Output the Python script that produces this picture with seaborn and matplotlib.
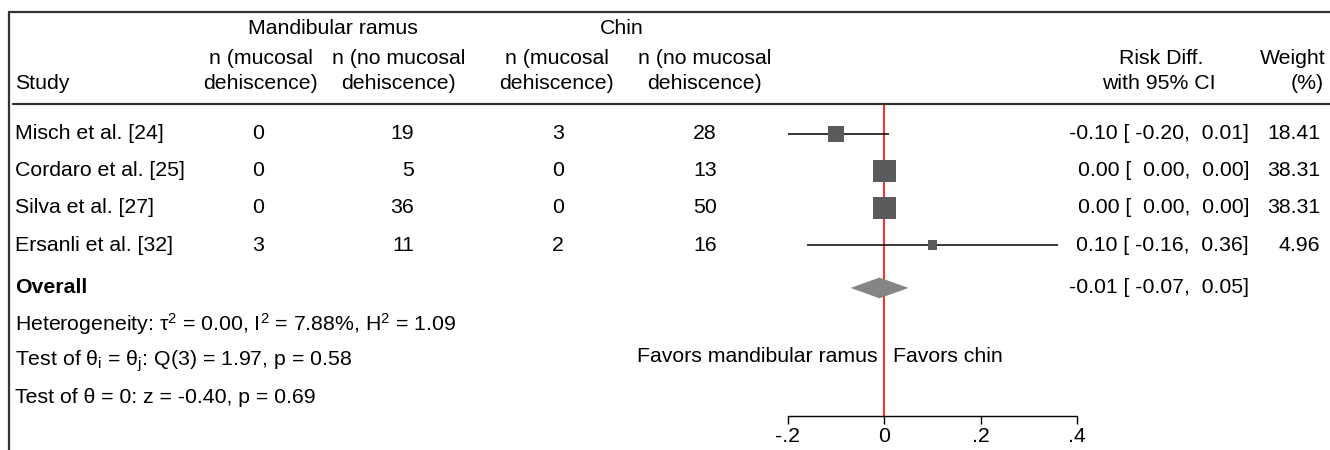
import pandas as pd
import seaborn as sns
import matplotlib.pyplot as plt
import matplotlib.transforms as mtransforms

studies = ["Misch et al. [24]", "Cordaro et al. [25]", "Silva et al. [27]", "Ersanli et al. [32]"]
ramus_dehisc = [0, 0, 0, 3]
ramus_no_dehisc = [19, 5, 36, 11]
chin_dehisc = [3, 0, 0, 2]
chin_no_dehisc = [28, 13, 50, 16]
risk_diff = [-0.10, 0.00, 0.00, 0.10]
ci_low = [-0.20, 0.00, 0.00, -0.16]
ci_high = [0.01, 0.00, 0.00, 0.36]
weights = [18.41, 38.31, 38.31, 4.96]

overall_rd = -0.01
overall_low = -0.07
overall_high = 0.05

het_text = "Heterogeneity: τ$^{2}$ = 0.00, I$^{2}$ = 7.88%, H$^{2}$ = 1.09"
q_text = "Test of θ$_{i}$ = θ$_{j}$: Q(3) = 1.97, p = 0.58"
z_text = "Test of θ = 0: z = -0.40, p = 0.69"

tick_values = [-0.2, 0, 0.2, 0.4]
tick_labels = ["-.2", "0", ".2", ".4"]

W, H = 1330, 450
FS = 15.3


def px(x):
    return x / W


def main():
    df = pd.DataFrame({
        "study": studies,
        "rd": risk_diff,
        "lo": ci_low,
        "hi": ci_high,
        "weight": weights,
    })
    df["row"] = range(len(df))
    y_overall, y_het, y_q, y_z, y_fav = 4.16, 5.14, 6.14, 7.12, 6.0

    sns.set_theme(style="white")
    plt.rcParams["font.family"] = ["Liberation Sans", "DejaVu Sans"]
    plt.rcParams["mathtext.fontset"] = "custom"
    plt.rcParams["mathtext.rm"] = "Liberation Sans"
    plt.rcParams["mathtext.it"] = "Liberation Sans"
    plt.rcParams["mathtext.default"] = "regular"
    for k in ["text.color", "xtick.color", "xtick.labelcolor", "axes.edgecolor"]:
        plt.rcParams[k] = "black"

    fig = plt.figure(figsize=(W / 100, H / 100), dpi=100)
    fig.patch.set_facecolor("white")
    ax = fig.add_axes([788 / W, 34 / H, 289 / W, 312 / H])
    ax.set_facecolor("none")

    # CI lines and squares
    ax.axvline(0, color="#ff1a1a", lw=1.3, zorder=1)
    ax.hlines(df["row"], df["lo"], df["hi"], color="black", lw=1.1, zorder=2)
    sns.scatterplot(data=df, x="rd", y="row", size="weight", sizes=(12, 267),
                    size_norm=(0, 38.31), marker="s", color="#5a5a5a",
                    linewidth=0, legend=False, ax=ax, zorder=3)

    # overall diamond
    ax.fill([overall_low, overall_rd, overall_high, overall_rd],
            [y_overall, y_overall - 0.28, y_overall, y_overall + 0.28],
            color="#858585", lw=0, zorder=3)

    ax.set_xlim(-0.2, 0.4)
    ax.set_ylim(7.62, -0.81)
    ax.set_xticks(tick_values, tick_labels)
    ax.set_yticks([])
    ax.set_xlabel("")
    ax.set_ylabel("")
    for s in ["top", "left", "right"]:
        ax.spines[s].set_visible(False)
    ax.spines["bottom"].set_color("black")
    ax.spines["bottom"].set_linewidth(1.0)
    ax.tick_params(axis="x", direction="out", length=6, width=1.0,
                   color="black", labelcolor="black", labelsize=FS, pad=2, bottom=True)

    ax.annotate("Favors mandibular ramus", xy=(0, y_fav), xytext=(-5, 0),
                textcoords="offset points", ha="right", va="center", fontsize=FS)
    ax.annotate("Favors chin", xy=(0, y_fav), xytext=(6, 0),
                textcoords="offset points", ha="left", va="center", fontsize=FS)

    tr = mtransforms.blended_transform_factory(fig.transFigure, ax.transData)

    def txt(x, y, s, ha="left", **kw):
        ax.text(px(x), y, s, transform=tr, ha=ha, va="center", fontsize=FS,
                color="black", clip_on=False, **kw)

    # header
    txt(333, -2.85, "Mandibular ramus", ha="center")
    txt(622, -2.85, "Chin", ha="center")
    for cx in [261, 557]:
        txt(cx, -2.04, "n (mucosal", ha="center")
        txt(cx, -1.36, "dehiscence)", ha="center")
    for cx in [399, 705]:
        txt(cx, -2.04, "n (no mucosal", ha="center")
        txt(cx, -1.36, "dehiscence)", ha="center")
    txt(15, -1.36, "Study")
    txt(1161, -2.04, "Risk Diff.", ha="center")
    txt(1159, -1.36, "with 95% CI", ha="center")
    txt(1326, -2.04, "Weight", ha="right")
    txt(1307, -1.36, "(%)", ha="center")

    # rows
    for i, r in df.iterrows():
        y = r["row"]
        txt(15, y, r["study"])
        txt(264, y, str(ramus_dehisc[i]), ha="right")
        txt(414, y, str(ramus_no_dehisc[i]), ha="right")
        txt(564, y, str(chin_dehisc[i]), ha="right")
        txt(717, y, str(chin_no_dehisc[i]), ha="right")
        txt(1249, y, f"{r['rd']:.2f} [{r['lo']:6.2f},{r['hi']:6.2f}]", ha="right")
        txt(1320, y, f"{r['weight']:.2f}", ha="right")

    txt(15, y_overall, "Overall", fontweight="bold")
    txt(1249, y_overall, f"{overall_rd:.2f} [{overall_low:6.2f},{overall_high:6.2f}]", ha="right")
    txt(15, y_het, het_text)
    txt(15, y_q, q_text)
    txt(15, y_z, z_text)

    # frame lines
    line_kw = dict(color="#333333", lw=1.6, transform=fig.transFigure)
    fig.add_artist(plt.Line2D([px(9), 1], [1 - 12 / H, 1 - 12 / H], **line_kw))
    fig.add_artist(plt.Line2D([px(9), px(9)], [1 - 12 / H, 0], **line_kw))
    fig.add_artist(plt.Line2D([px(13), 1], [1 - 104 / H, 1 - 104 / H], **line_kw))

    fig.savefig("out.png", dpi=100)
    plt.close(fig)


if __name__ == "__main__":
    main()
